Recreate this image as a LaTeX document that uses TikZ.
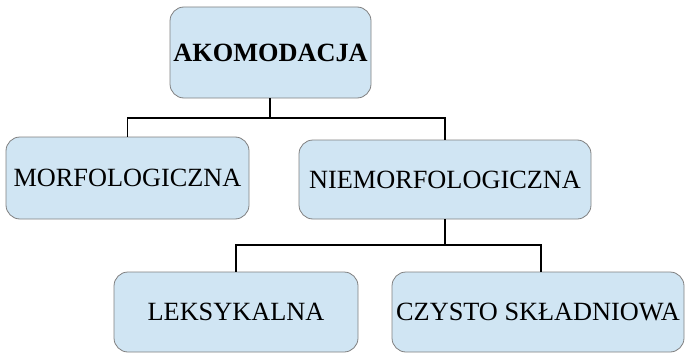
\documentclass[tikz,border=0pt]{standalone}
\usepackage{fontspec}
\setmainfont{Liberation Serif}
\definecolor{boxfill}{HTML}{D0E5F3}
\definecolor{boxline}{HTML}{808080}
\begin{document}
\begin{tikzpicture}[x=1pt,y=-1pt,
  box/.style={draw=boxline, fill=boxfill, line width=0.8pt, rounded corners=14pt,
    inner sep=0pt, font=\fontsize{26.3}{29}\selectfont},
  conn/.style={draw=black, line width=1.1pt}]
\useasboundingbox (0,0) rectangle (685,353);
\begin{scope}
\clip (0,0) rectangle (685,353);
\node[box, minimum width=201pt, minimum height=91pt] (top) at (270.5,52.5) {\textbf{AKOMODACJA}};
\node[box, minimum width=243pt, minimum height=82pt] (morf) at (127.5,178) {MORFOLOGICZNA};
\node[box, minimum width=292pt, minimum height=79pt] (niem) at (445,179.5) {NIEMORFOLOGICZNA};
\node[box, minimum width=244pt, minimum height=80pt] (lek) at (236,312) {LEKSYKALNA};
\node[box, minimum width=292pt, minimum height=80pt] (czy) at (538,312) {CZYSTO SKŁADNIOWA};
\coordinate (j1) at (270,118);
\coordinate (j2) at (445,245);
\draw[conn] (top.south -| j1) -- (j1);
\draw[conn] (j1) -| (morf.north);
\draw[conn] (j1) -| (niem.north);
\draw[conn] (niem.south) -- (j2);
\draw[conn] (j2) -| (lek.north);
\draw[conn] (j2) -| ([xshift=3pt]czy.north);
\end{scope}
\end{tikzpicture}
\end{document}
